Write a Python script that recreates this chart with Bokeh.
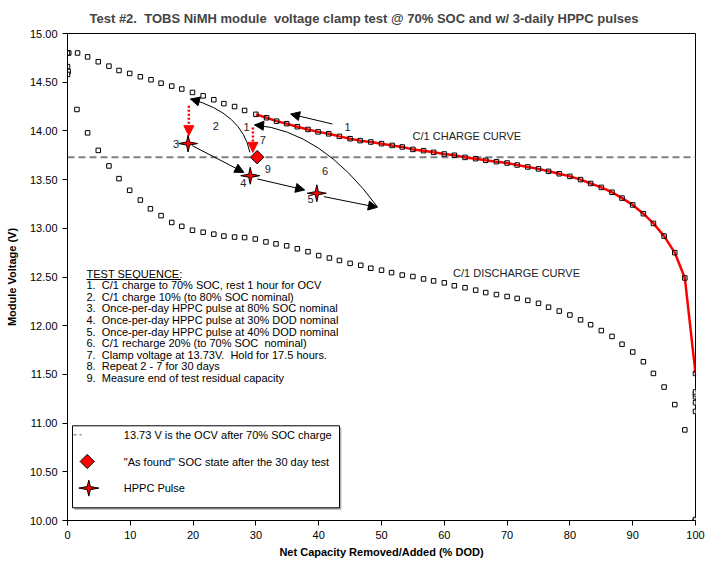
import numpy as np
from bokeh.plotting import figure
from bokeh.models import Range1d, Arrow, NormalHead, Label, PrintfTickFormatter, FixedTicker, Span
from bokeh.embed import file_html
from bokeh.resources import INLINE

# ---- C/1 charge curve (% DOD, module volts) ----
charge_dod = [100.0, 98.3, 96.7, 95.0, 93.3, 91.7, 90.0, 88.3, 86.7, 85.0, 83.3, 81.7,
              80.0, 78.3, 76.6, 75.0, 73.3, 71.6, 70.0, 68.3, 66.6, 65.0, 63.3, 61.6,
              60.0, 58.3, 56.7, 55.0, 53.3, 51.7, 50.0, 48.3, 46.6, 45.0, 43.3, 41.6,
              39.9, 38.3, 36.6, 34.9, 33.3, 31.7, 30.0,
              28.2, 26.6, 24.9, 23.3, 21.6, 19.9, 18.2, 16.6, 14.9, 13.3, 11.6, 9.9,
              8.2, 6.6, 4.9, 3.2, 1.6, 0.2]
charge_v = [11.51, 12.49, 12.75, 12.92, 13.05, 13.15, 13.24, 13.31, 13.37, 13.42, 13.46, 13.50,
            13.533, 13.56, 13.585, 13.61, 13.63, 13.65, 13.67, 13.684, 13.698, 13.715, 13.728, 13.75,
            13.763, 13.78, 13.797, 13.81, 13.835, 13.851, 13.869, 13.886, 13.90, 13.92, 13.944, 13.97,
            13.99, 14.015, 14.043, 14.074, 14.10, 14.135, 14.17,
            14.21, 14.25, 14.28, 14.32, 14.36, 14.395, 14.43, 14.46, 14.49, 14.525, 14.556, 14.59,
            14.62, 14.665, 14.71, 14.76, 14.80, 14.80]

# ---- C/1 discharge curve (% DOD, module volts) ----
discharge_dod = [0.0, 0.0, 0.1, 0.0, 1.5, 3.2, 4.9, 6.6, 8.2, 9.9, 11.6, 13.2, 14.9, 16.6,
                 18.2, 19.9, 21.6, 23.3, 24.9, 26.6, 28.2, 29.9, 31.6, 33.2, 34.9, 36.6,
                 38.3, 40.0, 41.7, 43.3, 45.0, 46.7, 48.3, 50.0, 51.6, 53.3, 55.0, 56.7,
                 58.3, 60.0, 61.6, 63.3, 65.0, 66.6, 68.3, 70.0, 71.6, 73.3, 75.0, 76.6,
                 78.3, 80.0, 81.7, 83.3, 85.0, 86.7, 88.3, 90.0, 91.7, 93.3, 95.0, 96.7,
                 98.3, 100.0, 100.0, 100.0, 100.0, 100.0, 100.0, 100.0, 100.0]
discharge_v = [14.80, 14.66, 14.61, 14.58, 14.22, 13.98, 13.80, 13.64, 13.51, 13.39, 13.29, 13.20,
               13.13, 13.06, 13.02, 12.98, 12.96, 12.94, 12.92, 12.91, 12.905, 12.89, 12.86, 12.84,
               12.82, 12.79, 12.76, 12.72, 12.695, 12.67, 12.64, 12.62, 12.59, 12.57, 12.545, 12.52,
               12.505, 12.48, 12.46, 12.44, 12.41, 12.39, 12.365, 12.34, 12.32, 12.30, 12.28, 12.26,
               12.23, 12.19, 12.15, 12.11, 12.06, 12.01, 11.95, 11.89, 11.81, 11.73, 11.63, 11.51,
               11.37, 11.19, 10.93, 10.00, 10.00, 10.01, 11.12, 11.21, 11.27, 11.30, 11.32]

# ---- test events ----
ocv_after_charge = 13.73
hppc_dod = [19.2, 29.1, 39.7]
hppc_v = [13.87, 13.54, 13.36]
as_found_dod = [30.2]
as_found_v = [13.73]
red_line_from_dod = 30.0

x_ticks = [0, 10, 20, 30, 40, 50, 60, 70, 80, 90, 100]
y_ticks = [10.0, 10.5, 11.0, 11.5, 12.0, 12.5, 13.0, 13.5, 14.0, 14.5, 15.0]

NB = "\u00a0"  # keeps the double spaces from collapsing in SVG text
test_sequence = [
    "1." + NB + " C/1 charge to 70% SOC, rest 1 hour for OCV",
    "2." + NB + " C/1 charge 10% (to 80% SOC nominal)",
    "3." + NB + " Once-per-day HPPC pulse at 80% SOC nominal",
    "4." + NB + " Once-per-day HPPC pulse at 30% DOD nominal",
    "5." + NB + " Once-per-day HPPC pulse at 40% DOD nominal",
    "6." + NB + " C/1 recharge 20% (to 70% SOC" + NB + " nominal)",
    "7." + NB + " Clamp voltage at 13.73V." + NB + " Hold for 17.5 hours.",
    "8." + NB + " Repeat 2 - 7 for 30 days",
    "9." + NB + " Measure end of test residual capacity",
]
legend_texts = [
    "13.73 V is the OCV after 70% SOC charge",
    "\"As found\" SOC state after the 30 day test",
    "HPPC Pulse",
]
title_text = ("Test #2." + NB + " TOBS NiMH module" + NB +
              " voltage clamp test @ 70% SOC and w/ 3-daily HPPC pulses")

FONT = "Liberation Sans"
FRAME_W, FRAME_H = 628, 487
X0, X1, Y0, Y1 = 0, 100, 10, 15
PX_X = FRAME_W / (X1 - X0)   # pixels per % DOD
PX_Y = FRAME_H / (Y1 - Y0)   # pixels per volt


def fx(px):
    """horizontal pixel offset from the frame's left edge -> % DOD"""
    return X0 + px / PX_X


def fy(py):
    """vertical pixel offset from the frame's top edge -> volts"""
    return Y1 - py / PX_Y


p = figure(frame_width=FRAME_W, frame_height=FRAME_H,
           min_border_left=67, min_border_right=10, min_border_top=33, min_border_bottom=42,
           x_range=Range1d(X0, X1), y_range=Range1d(Y0, Y1),
           output_backend="svg", toolbar_location=None,
           background_fill_color="white", border_fill_color="white")

p.title.text = title_text
p.title.text_font = FONT
p.title.text_font_size = "13px"
p.title.text_font_style = "bold"
p.title.align = "left"
p.title.offset = 22
p.title.standoff = 16

p.grid.visible = False
p.outline_line_color = "black"
p.outline_line_width = 1

for ax in (p.xaxis[0], p.yaxis[0]):
    ax.major_tick_in = 0
    ax.major_tick_out = 5
    ax.minor_tick_line_color = None
    ax.axis_line_color = "black"
    ax.major_tick_line_color = "black"
    ax.major_label_text_font = FONT
    ax.major_label_text_font_size = "11px"
    ax.major_label_text_color = "black"
    ax.axis_label_text_font = FONT
    ax.axis_label_text_font_size = "11px"
    ax.axis_label_text_font_style = "bold"
    ax.axis_label_text_color = "black"

p.xaxis.ticker = FixedTicker(ticks=x_ticks)
p.yaxis.ticker = FixedTicker(ticks=y_ticks)
p.yaxis.formatter = PrintfTickFormatter(format="%.2f")
p.xaxis.axis_label = "Net Capacity Removed/Added (% DOD)"
p.yaxis.axis_label = "Module Voltage (V)"
p.xaxis.axis_label_standoff = 4
p.yaxis.axis_label_standoff = 9

# OCV reference line
p.add_layout(Span(location=ocv_after_charge, dimension="width", line_color="#808080",
                  line_width=2, line_dash="7 4", level="underlay"))

# red part of the charge curve (the charge performed in this test)
cd = np.array(charge_dod)
cv = np.array(charge_v)
mask = cd >= red_line_from_dod
p.line(cd[mask], cv[mask], line_color="red", line_width=2.5)

# C/1 curves
p.scatter(discharge_dod, discharge_v, marker="square", size=4.5,
          line_color="black", fill_color="white", line_width=1)
p.scatter(charge_dod, charge_v, marker="square", size=4.5,
          line_color="black", fill_alpha=0, line_width=1)


def arrow(xs, ys, xe, ye, color="black", width=1, dash="solid", head=9):
    p.add_layout(Arrow(end=NormalHead(size=head, fill_color=color, line_color=color, line_width=1),
                       x_start=xs, y_start=ys, x_end=xe, y_end=ye,
                       line_color=color, line_width=width, line_dash=dash))

# straight black arrows
arrow(42.17, 14.071, 35.53, 14.173)
arrow(19.87, 13.848, 28.09, 13.574)
arrow(30.22, 13.507, 37.76, 13.394)
arrow(40.83, 13.325, 49.34, 13.215)


# curved arrows (quadratic Bezier + head along the end tangent)
def curved(s, c, e):
    p.quadratic(x0=[s[0]], y0=[s[1]], x1=[e[0]], y1=[e[1]], cx=[c[0]], cy=[c[1]],
                line_color="black", line_width=1)
    hx = e[0] + 0.12 * (c[0] - e[0])
    hy = e[1] + 0.12 * (c[1] - e[1])
    arrow(hx, hy, e[0], e[1])

curved((29.04, 13.780), (27.78, 14.184), (19.59, 14.327))
curved((49.34, 13.221), (40.42, 14.003), (29.79, 14.061))

# red dotted drop arrows
arrow(19.32, 14.258, 19.32, 13.951, color="red", width=2.5, dash="2 2", head=10)
arrow(29.52, 14.036, 29.52, 13.780, color="red", width=2.5, dash="2 2", head=10)


def star(cx, cy, rx=9.5, ry=8.5, ri=2.2):
    xs, ys = [], []
    for k in range(8):
        ang = k * np.pi / 4
        if k % 2 == 0:
            dx, dy = rx * np.cos(ang), ry * np.sin(ang)
        else:
            dx, dy = ri * np.cos(ang), ri * np.sin(ang)
        xs.append(cx + dx / PX_X)
        ys.append(cy + dy / PX_Y)
    return xs, ys

# HPPC pulse markers
stars = [star(x, y) for x, y in zip(hppc_dod, hppc_v)]
p.patches([s[0] for s in stars], [s[1] for s in stars], fill_color="red",
          line_color="black", line_width=1)

# "as found" marker
p.scatter(as_found_dod, as_found_v, marker="square", angle=np.pi / 4, size=9.5,
          fill_color="red", line_color="black", line_width=1)


def note(x, y, text, size="11px", color="#222222", align="center", style="normal"):
    p.add_layout(Label(x=x, y=y, text=text, text_font=FONT, text_font_size=size,
                       text_color=color, text_align=align, text_baseline="middle",
                       text_font_style=style))

# step numbers
note(44.6, 14.043, "1")
note(28.5, 14.040, "1")
note(23.6, 14.050, "2")
note(17.3, 13.870, "3")
note(28.0, 13.470, "4")
note(38.7, 13.300, "5")
note(41.0, 13.590, "6")
note(31.1, 13.910, "7")
note(31.9, 13.610, "9")

note(63.6, 13.951, "C/1 CHARGE CURVE")
note(71.5, 12.540, "C/1 DISCHARGE CURVE")

# test sequence block
seq_x = fx(19)
seq_top = 240
line_gap = 11.6
note(seq_x, fy(seq_top), "TEST SEQUENCE:", color="black", align="left")
p.segment(x0=[seq_x], y0=[fy(seq_top + 6)], x1=[fx(113.5)], y1=[fy(seq_top + 6)],
          line_color="black", line_width=1)
for i, t in enumerate(test_sequence):
    note(seq_x, fy(seq_top + line_gap * (i + 1)), t, color="black", align="left")

# legend box
bx0, bx1, by0, by1 = fx(5), fx(272), fy(392.3), fy(474.3)
p.quad(left=[bx0 + 0.3], right=[bx1 + 0.3], top=[by0 - 0.02], bottom=[by1 - 0.02],
       fill_color="#b0b0b0", line_color=None)
p.quad(left=[bx0], right=[bx1], top=[by0], bottom=[by1],
       fill_color="white", line_color="black", line_width=1)
row_y = [fy(401.3), fy(428), fy(454.6)]
p.segment(x0=[fx(6)], y0=[row_y[0]], x1=[fx(14)], y1=[row_y[0]],
          line_color="#606060", line_width=1, line_dash="3 3")
p.scatter([fx(19.7)], [row_y[1]], marker="square", angle=np.pi / 4, size=10,
          fill_color="red", line_color="black", line_width=1)
lx, ly = star(fx(21.3), row_y[2], rx=10, ry=8)
p.patch(lx, ly, fill_color="red", line_color="black", line_width=1)
for t, y in zip(legend_texts, row_y):
    note(fx(56.3), y, t, color="black", align="left")

open("out.html", "w").write(file_html(p, INLINE))
